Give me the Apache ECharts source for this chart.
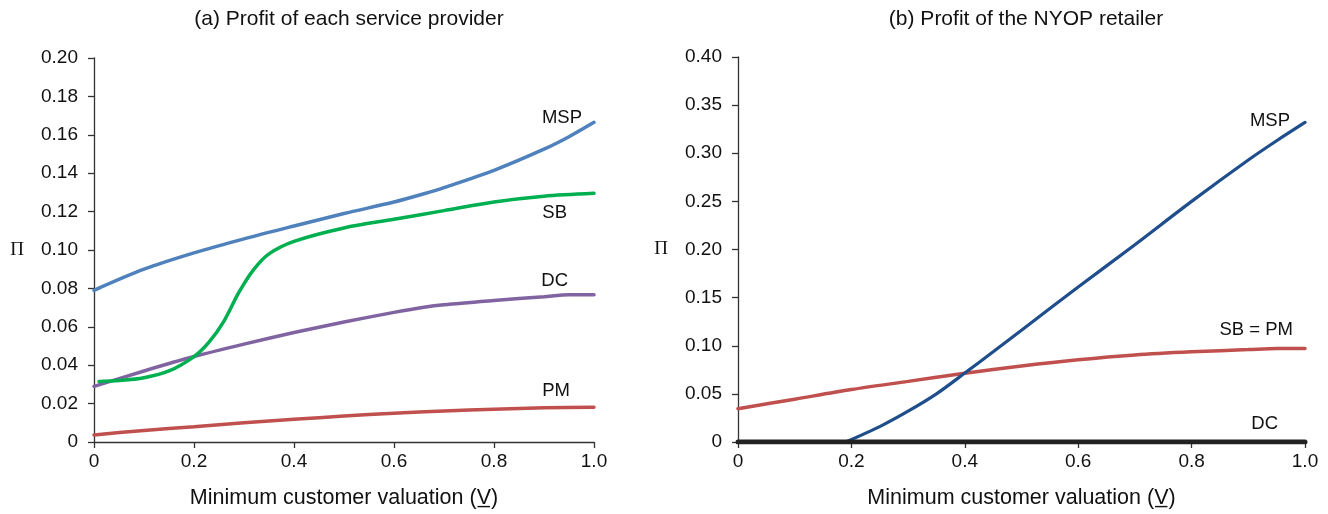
<!DOCTYPE html>
<html>
<head>
<meta charset="utf-8">
<script src="https://cdn.jsdelivr.net/npm/echarts@6/dist/echarts.min.js"></script>
<style>
html,body{margin:0;padding:0;background:#fff;}
#c{width:1328px;height:514px;}
</style>
</head>
<body>
<div id="c"></div>
<script>
// ---- Data ----
var xTicks = [0, 0.2, 0.4, 0.6, 0.8, 1.0];

// Panel (a): profit of each service provider
var aMSP_x = [0, 0.1, 0.2, 0.3, 0.4, 0.5, 0.6, 0.66, 0.7, 0.8, 0.9, 0.95, 1.0];
var aMSP_y = [0.079, 0.0900, 0.0985, 0.1058, 0.1125, 0.119, 0.125, 0.1293, 0.1325, 0.1415, 0.1525, 0.159, 0.1665];

var aSB_x = [0.01, 0.05, 0.1, 0.15, 0.2, 0.23, 0.26, 0.29, 0.32, 0.35, 0.4, 0.5, 0.6, 0.7, 0.8, 0.9, 1.0];
var aSB_y = [0.0315, 0.032, 0.0335, 0.037, 0.0445, 0.052, 0.063, 0.078, 0.09, 0.098, 0.1045, 0.1115, 0.116, 0.1205, 0.125, 0.128, 0.1295];

var aDC_x = [0, 0.1, 0.2, 0.3, 0.4, 0.5, 0.6, 0.66, 0.7, 0.8, 0.9, 0.95, 1.0];
var aDC_y = [0.029, 0.037, 0.0445, 0.051, 0.057, 0.0625, 0.0675, 0.0702, 0.0715, 0.0737, 0.0757, 0.0767, 0.0767];

var aPM_x = [0, 0.1, 0.2, 0.3, 0.4, 0.5, 0.6, 0.7, 0.8, 0.9, 1.0];
var aPM_y = [0.0037, 0.006, 0.008, 0.010, 0.0118, 0.0135, 0.015, 0.0162, 0.0171, 0.0178, 0.0181];

// Panel (b): profit of the NYOP retailer
var bMSP_x = [0.19, 0.25, 0.3, 0.35, 0.4, 0.45, 0.5, 0.6, 0.7, 0.8, 0.9, 0.95, 1.0];
var bMSP_y = [0, 0.016, 0.032, 0.050, 0.0716, 0.0938, 0.1162, 0.1610, 0.2050, 0.2500, 0.2930, 0.3130, 0.332];

var bSBPM_x = [0, 0.1, 0.2, 0.3, 0.4, 0.5, 0.6, 0.7, 0.8, 0.9, 0.95, 1.0];
var bSBPM_y = [0.0345, 0.0445, 0.0545, 0.063, 0.0715, 0.079, 0.0855, 0.0905, 0.0937, 0.096, 0.0972, 0.0972];

var bDC_x = [0, 1.0];
var bDC_y = [0, 0];

var titles = ['(a) Profit of each service provider', '(b) Profit of the NYOP retailer'];
var xName = 'Minimum customer valuation (V\u0332)';
var yName = '\u03A0';

function pairs(xs, ys) { return xs.map(function (x, i) { return [x, ys[i]]; }); }

var FONT = 'Liberation Sans, Arial, sans-serif';
var axisColor = '#333';

function xAxisCfg(gi) {
  return {
    type: 'value', gridIndex: gi, min: 0, max: 1, interval: 0.2,
    name: xName, nameLocation: 'middle', nameGap: 45,
    nameTextStyle: { fontFamily: FONT, fontSize: 21.5, color: '#111' },
    axisLine: { show: true, lineStyle: { color: axisColor, width: 1.3 } },
    axisTick: { show: true, length: 6, lineStyle: { color: axisColor, width: 1.3 } },
    axisLabel: { margin: 10, fontFamily: FONT, fontSize: 19, color: '#111',
      formatter: function (v) { return v === 0 ? '0' : v.toFixed(1); } },
    splitLine: { show: false }
  };
}
function yAxisCfg(gi, max, interval, dec) {
  return {
    type: 'value', gridIndex: gi, min: 0, max: max, interval: interval,
    name: yName, nameLocation: 'middle', nameGap: 70, nameRotate: 0,
    nameTextStyle: { fontFamily: 'Liberation Serif, DejaVu Serif, serif', fontSize: 19, color: '#111' },
    axisLine: { show: true, lineStyle: { color: axisColor, width: 1.3 } },
    axisTick: { show: true, length: 6, lineStyle: { color: axisColor, width: 1.3 } },
    axisLabel: { margin: 16, fontFamily: FONT, fontSize: 19, color: '#111',
      formatter: function (v) { return v === 0 ? '0' : v.toFixed(dec); } },
    splitLine: { show: false }
  };
}
function lineSeries(name, xi, data, color, width, off, smooth) {
  return {
    name: name, type: 'line', xAxisIndex: xi, yAxisIndex: xi,
    data: data, showSymbol: false, symbol: 'none', smooth: smooth,
    lineStyle: { color: color, width: width, cap: 'round' },
    silent: true, animation: false,
    endLabel: { show: true, formatter: name, distance: 0, align: 'right',
      verticalAlign: 'middle', offset: off,
      fontFamily: FONT, fontSize: 18.5, color: '#111' }
  };
}

var chart = echarts.init(document.getElementById('c'), null, { renderer: 'canvas' });
chart.setOption({
  backgroundColor: '#fff',
  animation: false,
  title: [
    { text: titles[0], left: 344, top: 4, textAlign: 'center',
      textStyle: { fontFamily: FONT, fontSize: 21, fontWeight: 'normal', color: '#111' } },
    { text: titles[1], left: 1021, top: 4, textAlign: 'center',
      textStyle: { fontFamily: FONT, fontSize: 21, fontWeight: 'normal', color: '#111' } }
  ],
  grid: [
    { left: 94, right: 734, top: 58, bottom: 72, containLabel: false },
    { left: 738, right: 23, top: 57, bottom: 71, containLabel: false }
  ],
  xAxis: [xAxisCfg(0), xAxisCfg(1)],
  yAxis: [yAxisCfg(0, 0.2, 0.02, 2), yAxisCfg(1, 0.4, 0.05, 2)],
  series: [
    lineSeries('PM', 0, pairs(aPM_x, aPM_y), '#c0504d', 3.5, [-24, -16], 0.3),
    lineSeries('DC', 0, pairs(aDC_x, aDC_y), '#8064a2', 3.5, [-26, -14], 0.3),
    lineSeries('MSP', 0, pairs(aMSP_x, aMSP_y), '#4f81bd', 3.5, [-12, -4], 0.3),
    lineSeries('SB', 0, pairs(aSB_x, aSB_y), '#00b050', 3.5, [-27, 20], 0.3),
    lineSeries('SB = PM', 1, pairs(bSBPM_x, bSBPM_y), '#c0504d', 3.5, [-12, -19], 0.3),
    lineSeries('MSP', 1, pairs(bMSP_x, bMSP_y), '#1f4e8c', 3.2, [-15, -2], 0.3),
    lineSeries('DC', 1, pairs(bDC_x, bDC_y), '#222222', 5, [-27, -18], 0)
  ]
});
</script>
</body>
</html>
